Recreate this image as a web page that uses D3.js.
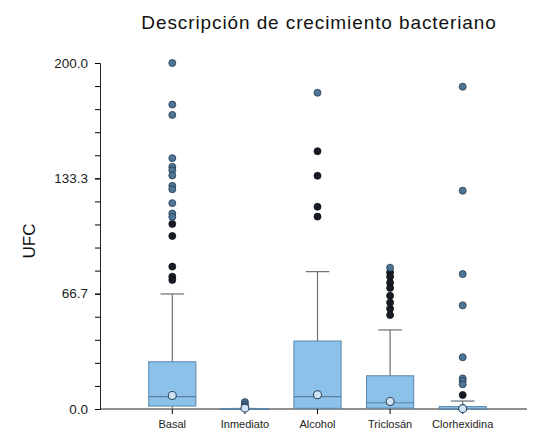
<!DOCTYPE html>
<html>
<head>
<meta charset="utf-8">
<script src="https://cdn.jsdelivr.net/npm/d3@7"></script>
<style>
  body { margin: 0; background: #fff; }
  svg { font-family: "Liberation Sans", Arial, sans-serif; }
</style>
</head>
<body>
<div id="main"></div>
<script>
// chart values
const categories = ['Basal', 'Inmediato', 'Alcohol', 'Triclosán', 'Clorhexidina'];
const q1 = [1.7, 0, 0.4, 0.5, 0];
const median = [7.1, 0, 7.1, 3.6, 0];
const q3 = [27.3, 0.3, 39.3, 19.2, 1.4];
const whiskerLow = [0, 0, 0, 0, 0];
const whiskerHigh = [66.5, 0.3, 79.4, 45.7, 4.6];
const means = [7.8, 0.5, 8.2, 4.3, 0.2];
// dark dots (outliers) and blue dots (far outliers)
const outliers = [
  [107, 100, 82.3, 76.5, 74.6],
  [],
  [149, 134.8, 116.9, 111.2],
  [79, 76.5, 73, 70, 65.5, 61.5, 58, 54.3],
  [8.1]
];
const farOutliers = [
  [200, 176, 170, 145, 140, 138, 135, 129, 127, 119, 113, 111],
  [4, 2.5, 1.2],
  [182.8],
  [81.7],
  [186.3, 126.2, 78, 59.9, 29.9, 17.7, 16.2, 14.3]
];
const yMajorTicks = [0, 200 / 3, 400 / 3, 200];

const w = 533;
const h = 432;

const svg = d3.select('div#main')
  .append('svg')
  .attr('width', w)
  .attr('height', h);

const x = d3.scaleBand()
  .domain(categories)
  .range([136, 499])
  .paddingInner(0.35)
  .paddingOuter(0.175);

const y = d3.scaleLinear()
  .domain([0, 200])
  .range([409, 63]);

// title
svg.append('text')
  .attr('x', 319)
  .attr('y', 29)
  .attr('text-anchor', 'middle')
  .style('font-size', '19px')
  .style('letter-spacing', '0.9px')
  .attr('fill', '#111')
  .text('Descripción de crecimiento bacteriano');

// y label
svg.append('text')
  .attr('transform', 'translate(35,241) rotate(-90)')
  .attr('text-anchor', 'middle')
  .style('font-size', '17px')
  .attr('fill', '#111')
  .text('UFC');

// y axis: minor ticks every 200/15, labels on the majors
const minorTicks = d3.range(16).map(i => i * 200 / 15);
svg.append('g')
  .attr('transform', 'translate(100,0)')
  .call(d3.axisLeft(y).tickValues(minorTicks).tickSize(5).tickFormat(''))
  .call(g => g.select('.domain').attr('stroke', '#222'));

svg.append('g')
  .attr('transform', 'translate(100,0)')
  .call(d3.axisLeft(y).tickValues(yMajorTicks).tickSize(5).tickPadding(7).tickFormat(d3.format('.1f')))
  .call(g => g.select('.domain').remove())
  .call(g => g.selectAll('text').style('font-size', '13.5px').attr('fill', '#222').style('font-family', '"Liberation Sans", Arial, sans-serif'));

// x axis
svg.append('g')
  .attr('transform', 'translate(0,409)')
  .call(d3.axisBottom(x).tickSize(5).tickPadding(6).tickSizeOuter(0))
  .call(g => g.select('.domain').attr('d', 'M100,0H527').attr('stroke', '#222'))
  .call(g => g.selectAll('text').style('font-size', '11px').attr('fill', '#222').style('font-family', '"Liberation Sans", Arial, sans-serif'));

const groups = svg.append('g')
  .selectAll('g')
  .data(categories)
  .join('g')
  .attr('transform', d => `translate(${x(d) + x.bandwidth() / 2},0)`);

const bw = x.bandwidth();

// whiskers
groups.append('line')
  .attr('y1', (d, i) => y(whiskerLow[i]))
  .attr('y2', (d, i) => y(whiskerHigh[i]))
  .attr('stroke', '#6b6f75')
  .attr('stroke-width', 1.2);

groups.append('line')
  .attr('x1', -bw / 4)
  .attr('x2', bw / 4)
  .attr('y1', (d, i) => y(whiskerHigh[i]))
  .attr('y2', (d, i) => y(whiskerHigh[i]))
  .attr('stroke', '#6b6f75')
  .attr('stroke-width', 1.2);

// boxes
groups.append('rect')
  .attr('x', -bw / 2)
  .attr('width', bw)
  .attr('y', (d, i) => y(q3[i]))
  .attr('height', (d, i) => Math.max(1, y(q1[i]) - y(q3[i])))
  .attr('fill', '#8cc1ea')
  .attr('stroke', '#5a88ad')
  .attr('stroke-width', 1);

groups.append('line')
  .attr('x1', -bw / 2)
  .attr('x2', bw / 2)
  .attr('y1', (d, i) => y(median[i]))
  .attr('y2', (d, i) => y(median[i]))
  .attr('stroke', '#5a7f9f')
  .attr('stroke-width', 1.2);

// outliers
groups.selectAll('circle.out')
  .data((d, i) => outliers[i])
  .join('circle')
  .attr('class', 'out')
  .attr('r', 3.5)
  .attr('cy', v => y(v))
  .attr('fill', '#161b24')
  .attr('stroke', '#0d1117')
  .attr('stroke-width', 0.8);

groups.selectAll('circle.far')
  .data((d, i) => farOutliers[i])
  .join('circle')
  .attr('class', 'far')
  .attr('r', 3.5)
  .attr('cy', v => y(v))
  .attr('fill', '#4d7597')
  .attr('stroke', '#26384a')
  .attr('stroke-width', 0.8);

// mean markers
groups.append('circle')
  .attr('r', 4)
  .attr('cy', (d, i) => y(means[i]))
  .attr('fill', '#cfe5f7')
  .attr('stroke', '#33485c')
  .attr('stroke-width', 1.1);
</script>
</body>
</html>
